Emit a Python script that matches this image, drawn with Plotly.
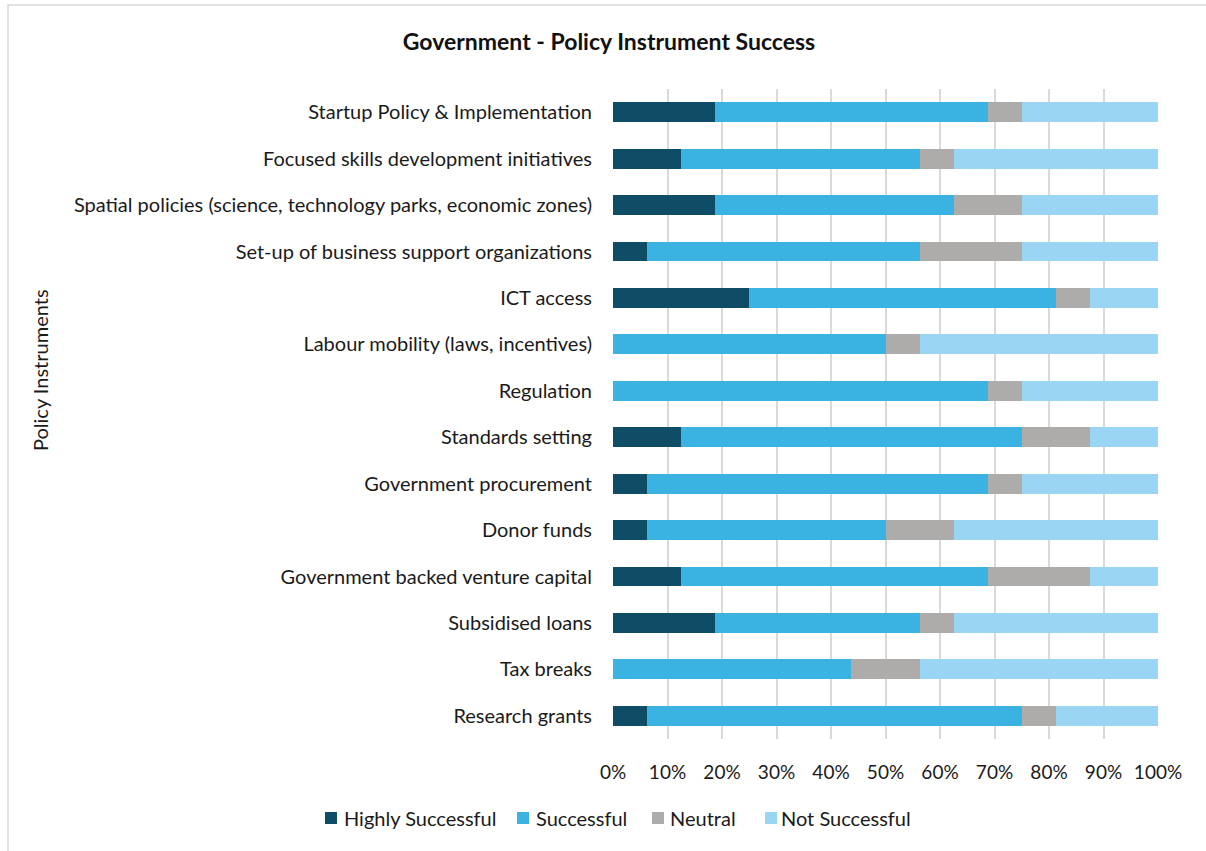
import plotly.graph_objects as go

# Policy instruments (bottom to top as drawn)
instruments = [
    "Research grants",
    "Tax breaks",
    "Subsidised loans",
    "Government backed venture capital",
    "Donor funds",
    "Government procurement",
    "Standards setting",
    "Regulation",
    "Labour mobility (laws, incentives)",
    "ICT access",
    "Set-up of business support organizations",
    "Spatial policies (science, technology parks, economic zones)",
    "Focused skills development initiatives",
    "Startup Policy & Implementation",
]

# Share of respondents (%) per rating
highly_successful = [6.25, 0, 18.75, 12.5, 6.25, 6.25, 12.5, 0, 0, 25, 6.25, 18.75, 12.5, 18.75]
successful = [68.75, 43.75, 37.5, 56.25, 43.75, 62.5, 62.5, 68.75, 50, 56.25, 50, 43.75, 43.75, 50]
neutral = [6.25, 12.5, 6.25, 18.75, 12.5, 6.25, 12.5, 6.25, 6.25, 6.25, 18.75, 12.5, 6.25, 6.25]
not_successful = [18.75, 43.75, 37.5, 12.5, 37.5, 25, 12.5, 25, 43.75, 12.5, 25, 25, 37.5, 25]

x_ticks = [0, 10, 20, 30, 40, 50, 60, 70, 80, 90, 100]
x_tick_labels = [f"{t}%" for t in x_ticks]

rating_names = ["Highly Successful", "Successful", "Neutral", "Not Successful"]
rating_colors = ["#0F4D66", "#3AB3E3", "#AEABAB", "#9AD6F4"]
rating_values = [highly_successful, successful, neutral, not_successful]

FONT = "Lato, 'Open Sans', sans-serif"
TXT = "#1a1a1a"

fig = go.Figure()
for name, vals, color in zip(rating_names, rating_values, rating_colors):
    fig.add_trace(go.Bar(
        y=instruments, x=vals, name=name, orientation="h",
        marker=dict(color=color, line=dict(width=0)),
        hovertemplate="%{y}<br>" + name + ": %{x}%<extra></extra>",
    ))

W, H = 1206, 851
ml, mr, mt, mb = 613, 48, 89, 112
pw, ph = W - ml - mr, H - mt - mb


def px_x(v):
    return (v - ml) / pw


def px_y(v):
    return 1 - (v - mt) / ph


fig.update_layout(
    width=W, height=H,
    barmode="stack", bargap=0.57,
    plot_bgcolor="white", paper_bgcolor="white",
    margin=dict(l=ml, r=mr, t=mt, b=mb, autoexpand=False),
    font=dict(family=FONT, size=20, color=TXT),
    title=dict(
        text="<b>Government - Policy Instrument Success</b>",
        x=609 / W, xanchor="center", y=1 - 42 / H, yanchor="middle",
        font=dict(family=FONT, size=23, color="#111111"),
    ),
    xaxis=dict(
        range=[0, 100], tickvals=x_ticks, ticktext=x_tick_labels,
        showgrid=True, gridcolor="#D9D9D9", gridwidth=1.5,
        zeroline=False, showline=False, ticks="", ticklabelstandoff=20,
        tickfont=dict(family=FONT, size=19, color=TXT), fixedrange=True,
    ),
    yaxis=dict(
        showgrid=False, zeroline=False, showline=False, ticks="",
        ticklabelstandoff=20,
        tickfont=dict(family=FONT, size=20, color=TXT), fixedrange=True,
    ),
    showlegend=False,
)

# Y axis title
fig.add_annotation(
    text="Policy Instruments", textangle=-90,
    xref="paper", yref="paper",
    x=px_x(40), y=px_y(370),
    xanchor="center", yanchor="middle", showarrow=False,
    font=dict(family=FONT, size=20, color=TXT),
)

# Legend row beneath the axis: colour key squares with labels
legend_marker_left = [325, 517, 652, 765]
legend_text_left = [342, 534, 668, 779]
legend_y = 818
for name, color, mx, tx in zip(rating_names, rating_colors, legend_marker_left, legend_text_left):
    fig.add_shape(
        type="rect", xref="paper", yref="paper",
        x0=px_x(mx), x1=px_x(mx + 12), y0=px_y(legend_y - 6), y1=px_y(legend_y + 6),
        line=dict(width=0), fillcolor=color,
    )
    fig.add_annotation(
        text=name, xref="paper", yref="paper",
        x=px_x(tx), y=px_y(legend_y), xanchor="left", yanchor="middle",
        showarrow=False, font=dict(family=FONT, size=20, color=TXT),
    )

# Outer chart frame
fig.add_shape(
    type="rect", xref="paper", yref="paper",
    x0=px_x(8), x1=px_x(1210), y0=px_y(5), y1=px_y(856),
    line=dict(color="#D9D9D9", width=1.5), fillcolor="rgba(0,0,0,0)", layer="below",
)

fig.write_html("out.html")
